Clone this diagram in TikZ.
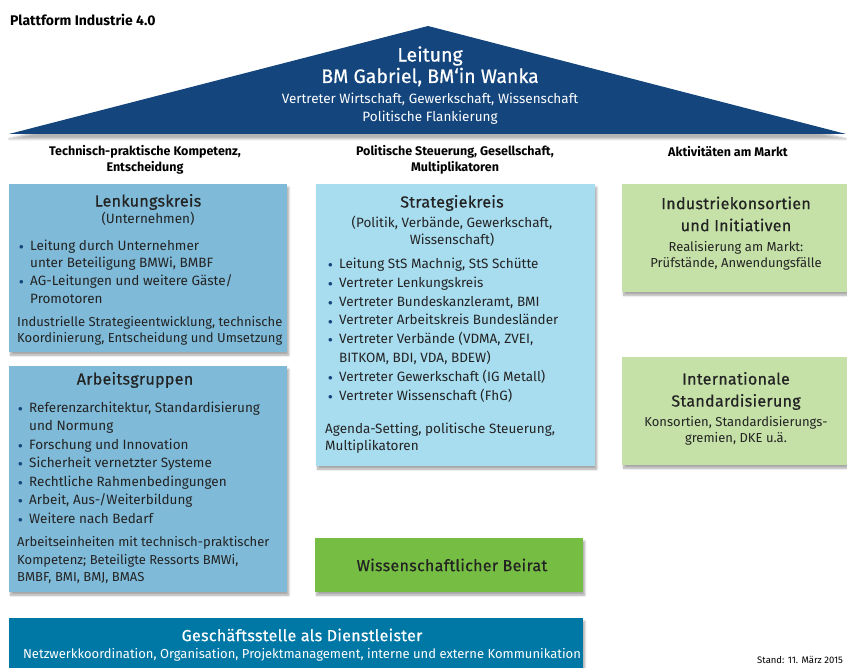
\documentclass[tikz,border=0pt]{standalone}
\usepackage{fontspec}
\setmainfont{Fira Sans}
\usetikzlibrary{shadows,shadows.blur}

\definecolor{roofblue}{RGB}{20,70,125}
\definecolor{steerblue}{RGB}{127,186,216}
\definecolor{stratblue}{RGB}{168,221,240}
\definecolor{marketgreen}{RGB}{197,225,168}
\definecolor{councilgreen}{RGB}{118,190,67}
\definecolor{officeblue}{RGB}{0,120,165}
\definecolor{txtgray}{RGB}{35,35,35}

% bullet and hanging indent
\newcommand{\bul}{\makebox[11pt][l]{\textcolor{roofblue}{\raisebox{0.1ex}{$\scriptstyle\bullet$}}}}
\newcommand{\nob}{\hspace*{11pt}}

\begin{document}
\begin{tikzpicture}[x=1pt,y=-1pt,
	card/.style={anchor=north west, inner sep=0pt, blur shadow={shadow xshift=1.5pt, shadow yshift=-3pt, shadow blur steps=6, shadow opacity=35}},
	ttl/.style={font=\fontsize{16}{22}\selectfont\addfontfeature{LetterSpace=2,FakeBold=0.6}, text=txtgray, align=center, inner sep=0pt},
	sub/.style={font=\fontsize{13.5}{17}\selectfont, text=txtgray, align=center, inner sep=0pt},
	lst/.style={font=\fontsize{13.5}{#1}\selectfont, text=txtgray, align=left, inner sep=0pt, anchor=west},
	par/.style={font=\fontsize{13}{#1}\selectfont, text=txtgray, align=left, inner sep=0pt, anchor=west},
	colhead/.style={font=\bfseries\fontsize{12.5}{16}\selectfont, align=center, inner sep=0pt},
	rooftxt/.style={text=white, inner sep=0pt}]
	
	\useasboundingbox (0,0) rectangle (847,668);
	
	% title
	\node[anchor=west, inner sep=0pt, font=\bfseries\fontsize{14}{15}\selectfont] (title) at (10,20) {Plattform Industrie 4.0};
	
	% roof
	\coordinate (top) at (428,26);
	\coordinate (bl) at (9,134);
	\coordinate (br) at (846,134);
	\fill[roofblue, blur shadow={shadow xshift=0pt, shadow yshift=-5pt, shadow blur steps=6, shadow opacity=30}] (bl) -- (top) -- (br) -- cycle;
	\node[rooftxt, font=\fontsize{19.5}{22}\selectfont\addfontfeature{FakeBold=0.5}] (lead) at (430,56) {Leitung};
	\node[rooftxt, font=\fontsize{19.5}{22}\selectfont\addfontfeature{FakeBold=0.5}] (minis) at (430,77) {BM Gabriel, BM‘in Wanka};
	\node[rooftxt, font=\fontsize{13.5}{16}\selectfont] (reps) at (430,99) {Vertreter Wirtschaft, Gewerkschaft, Wissenschaft};
	\node[rooftxt, font=\fontsize{13.5}{16}\selectfont] (flank) at (430,118) {Politische Flankierung};
	
	% column heads
	\node[colhead] (headl) at (145,160) {Technisch-praktische Kompetenz,\\Entscheidung};
	\node[colhead] (headm) at (455,160) {Politische Steuerung, Gesellschaft,\\Multiplikatoren};
	\node[colhead] (headr) at (728,152) {Aktivitäten am Markt};
	
	% left column
	\node[card, fill=steerblue, minimum width=278, minimum height=168] (lk) at (9,184) {};
	\node[ttl] (lkt) at (148,202) {Lenkungskreis};
	\node[sub] (lks) at (148,219) {(Unternehmen)};
	\node[lst=17.7] (lkl) at (19,271.5) {\bul Leitung durch Unternehmer\\
		\nob unter Beteiligung BMWi, BMBF\\
		\bul AG-Leitungen und weitere Gäste/\\
		\nob Promotoren};
	\node[par=16] (lkp) at (17,331) {Industrielle Strategieentwicklung, technische\\Koordinierung, Entscheidung und Umsetzung};
	
	\node[card, fill=steerblue, minimum width=278, minimum height=226] (ag) at (9,366) {};
	\node[ttl] (agt) at (135,380) {Arbeitsgruppen};
	\node[lst=18.5] (agl) at (18,462.5) {\bul Referenzarchitektur, Standardisierung\\
		\nob und Normung\\
		\bul Forschung und Innovation\\
		\bul Sicherheit vernetzter Systeme\\
		\bul Rechtliche Rahmenbedingungen\\
		\bul Arbeit, Aus-/Weiterbildung\\
		\bul Weitere nach Bedarf};
	\node[par=17.5] (agp) at (17,560.5) {Arbeitseinheiten mit technisch-praktischer\\Kompetenz; Beteiligte Ressorts BMWi,\\BMBF, BMI, BMJ, BMAS};
	
	% middle column
	\node[card, fill=stratblue, minimum width=279, minimum height=282] (sk) at (316,184) {};
	\node[ttl] (skt) at (452,203) {Strategiekreis};
	\node[sub] (sks) at (452,231.5) {(Politik, Verbände, Gewerkschaft,\\Wissenschaft)};
	\node[lst=18.85] (skl) at (328,330) {\bul Leitung StS Machnig, StS Schütte\\
		\bul Vertreter Lenkungskreis\\
		\bul Vertreter Bundeskanzleramt, BMI\\
		\bul Vertreter Arbeitskreis Bundesländer\\
		\bul Vertreter Verbände (VDMA, ZVEI,\\
		\nob BITKOM, BDI, VDA, BDEW)\\
		\bul Vertreter Gewerkschaft (IG Metall)\\
		\bul Vertreter Wissenschaft (FhG)};
	\node[lst=17] (skp) at (325,438.5) {Agenda-Setting, politische Steuerung,\\Multiplikatoren};
	
	\node[card, fill=councilgreen, minimum width=268, minimum height=54] (wb) at (315,538) {};
	\node[ttl] (wbt) at (452,565) {Wissenschaftlicher Beirat};
	
	% right column
	\node[card, fill=marketgreen, minimum width=225, minimum height=108] (ik) at (622,184) {};
	\node[ttl] (ikt) at (736,214) {Industriekonsortien\\und Initiativen};
	\node[sub, font=\fontsize{13}{16}\selectfont] (iks) at (736,255.5) {Realisierung am Markt:\\Prüfstände, Anwendungsfälle};
	
	\node[card, fill=marketgreen, minimum width=225, minimum height=108] (is) at (622,357) {};
	\node[ttl] (ist) at (736,391) {Internationale\\Standardisierung};
	\node[sub, font=\fontsize{13}{16}\selectfont] (iss) at (736,430.5) {Konsortien, Standardisierungs-\\gremien, DKE u.ä.};
	
	% office at the bottom
	\node[card, fill=officeblue, minimum width=574, minimum height=60] (gs) at (9,618) {};
	\node[ttl, text=white] (gst) at (302,635) {Geschäftsstelle als Dienstleister};
	\node[sub, text=white, font=\fontsize{13}{16}\selectfont] (gss) at (302,655) {Netzwerkkoordination, Organisation, Projektmanagement, interne und externe Kommunikation};
	
	% date
	\node[anchor=west, inner sep=0pt, font=\fontsize{9.5}{10}\selectfont] (date) at (757,660) {Stand: 11. März 2015};
\end{tikzpicture}
\end{document}
